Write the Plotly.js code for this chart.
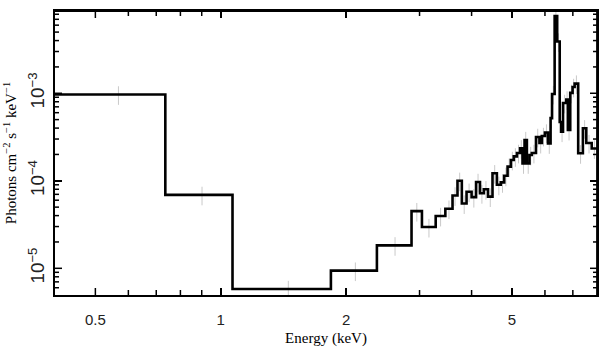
<!DOCTYPE html>
<html>
<head>
<meta charset="utf-8">
<script src="https://cdn.plot.ly/plotly-3.0.1.min.js"></script>
<style>html,body{margin:0;padding:0;background:#fff;}#chart{width:609px;height:357px;}</style>
</head>
<body>
<div id="chart"></div>
<script>
// Bin edges (keV) of the unfolded spectrum
const binEdges = [0.4, 0.736, 1.067, 1.838, 2.37, 2.87, 3.04, 3.28, 3.46, 3.60, 3.70,
  3.79, 3.89, 4.00, 4.10, 4.19, 4.28, 4.38, 4.49, 4.60, 4.70, 4.79, 4.88, 4.97, 5.05,
  5.14, 5.23, 5.30, 5.36, 5.43, 5.51, 5.58, 5.71, 5.82, 5.90, 6.00, 6.10, 6.19, 6.24,
  6.33, 6.42, 6.51, 6.56, 6.63, 6.75, 6.81, 6.90, 6.99, 7.07, 7.21, 7.40, 7.54, 7.77, 8.0];
// Flux per bin (photons cm^-2 s^-1 keV^-1)
const binFlux = [9.7e-4, 6.9e-5, 5.8e-6, 9.4e-6, 1.83e-5, 4.5e-5, 2.96e-5, 3.96e-5, 4.8e-5,
  6.8e-5, 1.0e-4, 5.5e-5, 7.5e-5, 6.5e-5, 9.7e-5, 7.2e-5, 8.0e-5, 6.6e-5, 1.22e-4, 9.0e-5,
  9.6e-5, 1.14e-4, 1.45e-4, 1.73e-4, 1.9e-4, 2.08e-4, 2.35e-4, 1.58e-4, 2.92e-4, 1.58e-4,
  1.97e-4, 2.08e-4, 3.17e-4, 2.7e-4, 3.25e-4, 3.56e-4, 2.67e-4, 5.2e-4, 9.8e-4, 7.65e-3,
  3.9e-3, 4.7e-4, 3.64e-4, 7.75e-4, 8.5e-4, 3.8e-4, 1.01e-3, 1.18e-3, 1.29e-3, 2.06e-4,
  3.98e-4, 2.7e-4, 2.34e-4];
const errPercent = 24;

const xMajor = [0.5, 1, 2, 5];
const xMajorText = ['0.5', '1', '2', '5'];
const xMinor = [0.6, 0.7, 0.8, 0.9, 3, 4, 6, 7];
const yMajor = [1e-5, 1e-4, 1e-3];
const yMinor = [6e-6, 7e-6, 8e-6, 9e-6, 2e-5, 3e-5, 4e-5, 5e-5, 6e-5, 7e-5, 8e-5, 9e-5,
  2e-4, 3e-4, 4e-4, 5e-4, 6e-4, 7e-4, 8e-4, 9e-4, 2e-3, 3e-3, 4e-3, 5e-3, 6e-3, 7e-3, 8e-3];

const W = 609, H = 357, M = {l: 55, r: 12, t: 11, b: 62};
const plotW = W - M.l - M.r, plotH = H - M.t - M.b;
const xRange = [Math.log10(0.4), Math.log10(8)];
const yRange = [-5.305, -2.06];

const stepY = binFlux.concat([binFlux[binFlux.length - 1]]);
const centers = binFlux.map((v, i) => (binEdges[i] + binEdges[i + 1]) / 2);

const errTrace = {
  x: centers, y: binFlux, type: 'scatter', mode: 'markers',
  marker: {size: 0.1, color: 'rgba(0,0,0,0)'},
  error_y: {type: 'percent', value: errPercent, color: '#c9c9c9', thickness: 1, width: 0},
  hoverinfo: 'skip', showlegend: false
};
const stepTrace = {
  x: binEdges, y: stepY, type: 'scatter', mode: 'lines',
  line: {shape: 'hv', color: '#000', width: 2.6},
  showlegend: false
};

// axis decoration: inside ticks on four sides and the top/right frame, drawn through the axes' log scales
const xLo = Math.pow(10, xRange[0]), xHi = Math.pow(10, xRange[1]);
const yLo = Math.pow(10, yRange[0]), yHi = Math.pow(10, yRange[1]);
function yAt(px) { return Math.pow(10, yRange[0] + px / plotH * (yRange[1] - yRange[0])); }
function xAt(px) { return Math.pow(10, xRange[0] + px / plotW * (xRange[1] - xRange[0])); }
const hidden = {size: 0.1, color: 'rgba(0,0,0,0)'};
function xTickBars(vals, len) {
  const n = vals.length;
  return {
    x: vals.concat(vals), y: vals.map(() => yLo).concat(vals.map(() => yHi)),
    type: 'scatter', mode: 'markers', marker: hidden, hoverinfo: 'skip', showlegend: false, cliponaxis: false,
    error_y: {type: 'data', symmetric: false,
      array: vals.map(() => yAt(len) - yLo).concat(vals.map(() => 0)),
      arrayminus: vals.map(() => 0).concat(vals.map(() => yHi - yAt(plotH - len))),
      color: '#000', thickness: 1.5, width: 0}
  };
}
function yTickBars(vals, len) {
  return {
    x: vals.map(() => xLo).concat(vals.map(() => xHi)), y: vals.concat(vals),
    type: 'scatter', mode: 'markers', marker: hidden, hoverinfo: 'skip', showlegend: false, cliponaxis: false,
    error_x: {type: 'data', symmetric: false,
      array: vals.map(() => xAt(len) - xLo).concat(vals.map(() => 0)),
      arrayminus: vals.map(() => 0).concat(vals.map(() => xHi - xAt(plotW - len))),
      color: '#000', thickness: 1.5, width: 0}
  };
}
const frameBars = {
  x: [xHi, xLo], y: [yLo, yHi], type: 'scatter', mode: 'markers', marker: hidden,
  hoverinfo: 'skip', showlegend: false, cliponaxis: false,
  error_y: {type: 'data', symmetric: false, array: [yHi - yLo, 0], arrayminus: [0, 0], color: '#000', thickness: 1.8, width: 0},
  error_x: {type: 'data', symmetric: false, array: [0, xHi - xLo], arrayminus: [0, 0], color: '#000', thickness: 1.8, width: 0}
};

const tickFont = {family: 'Liberation Sans, Arial, sans-serif', size: 15, color: '#222'};
const titleFont = {family: 'Liberation Serif, Times New Roman, serif', size: 15, color: '#000'};

const layout = {
  width: W, height: H,
  margin: {l: M.l, r: M.r, t: M.t, b: M.b, pad: 0},
  paper_bgcolor: '#fff', plot_bgcolor: '#fff',
  showlegend: false,
  xaxis: {
    type: 'log', range: xRange,
    tickmode: 'array', tickvals: xMajor, ticktext: xMajorText,
    ticks: 'inside', ticklen: 7, tickwidth: 1.5, tickcolor: '#000',
    showline: true, linecolor: '#000', linewidth: 1.8, mirror: 'allticks',
    showgrid: false, zeroline: false, tickfont: tickFont, ticklabelstandoff: 10,
    title: {text: 'Energy (keV)', font: titleFont, standoff: 6}
  },
  yaxis: {
    type: 'log', range: yRange, dtick: 1, exponentformat: 'power',
    ticks: 'inside', ticklen: 7, tickwidth: 1.5, tickcolor: '#000', tickangle: -90,
    showline: true, linecolor: '#000', linewidth: 1.8, mirror: 'allticks',
    showgrid: false, zeroline: false, tickfont: tickFont, ticklabelstandoff: 2,
    title: {text: 'Photons cm<sup>\u22122</sup> s<sup>\u22121</sup> keV<sup>\u22121</sup>', font: titleFont, standoff: 4}
  }
};

const traces = [errTrace,
  xTickBars(xMajor, 7), xTickBars(xMinor, 5),
  yTickBars(yMajor, 7), yTickBars(yMinor, 4),
  frameBars, stepTrace];

Plotly.newPlot('chart', traces, layout, {displayModeBar: false, staticPlot: true});
</script>
</body>
</html>
